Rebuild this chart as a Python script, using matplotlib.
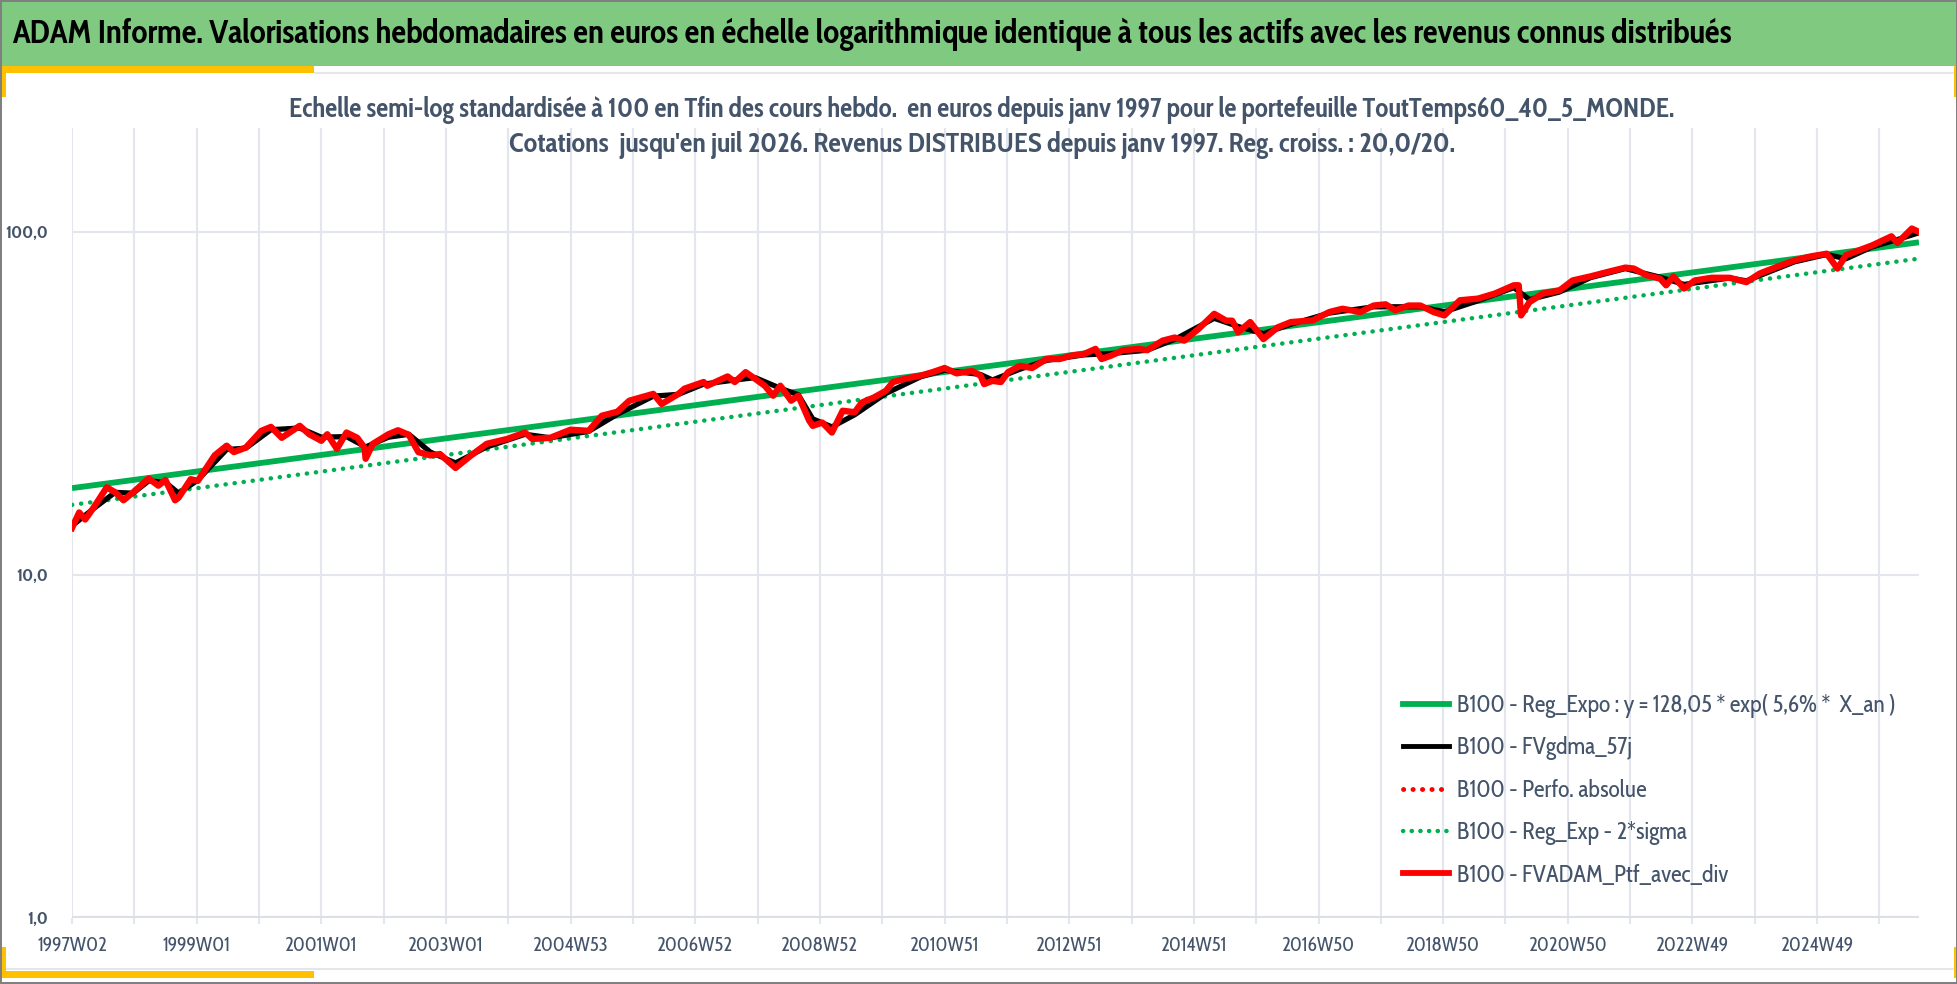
import matplotlib
matplotlib.use("Agg")
import matplotlib.pyplot as plt
from matplotlib.patches import Rectangle
from matplotlib.lines import Line2D
from matplotlib import font_manager as fm

# ---------------- data ----------------
x_tick_labels = ["1997W02", "1999W01", "2001W01", "2003W01", "2004W53", "2006W52",
                 "2008W52", "2010W51", "2012W51", "2014W51", "2016W50", "2018W50",
                 "2020W50", "2022W49", "2024W49"]
n_weeks = 1542

red_weeks = [0, 6, 11, 18, 29, 36, 43, 51, 64, 72, 78, 86, 89, 99, 105, 119, 129, 135, 145,
             158, 166, 175, 190, 198, 208, 213, 221, 229, 238, 244, 245, 251, 264, 272, 281,
             289, 299, 307, 320, 333, 346, 363, 378, 384, 399, 416, 431, 442, 455, 465, 485,
             492, 506, 511, 527, 530, 547, 553, 562, 570, 578, 585, 591, 600, 606, 615, 618,
             626, 634, 643, 653, 659, 669, 679, 685, 695, 708, 718, 728, 738, 751, 758, 761,
             768, 775, 781, 791, 801, 813, 824, 834, 844, 854, 859, 867, 877, 890, 897, 910,
             920, 928, 940, 953, 963, 968, 973, 983, 994, 1006, 1017, 1035, 1049, 1060, 1075,
             1086, 1096, 1104, 1115, 1125, 1136, 1145, 1158, 1173, 1187, 1203, 1207, 1209,
             1216, 1227, 1241, 1252, 1267, 1281, 1296, 1303, 1314, 1325, 1330, 1336, 1345,
             1354, 1368, 1383, 1397, 1408, 1422, 1437, 1451, 1464, 1473, 1480, 1491, 1502,
             1518, 1523, 1535, 1541]
red_vals = [13.7, 15.2, 14.5, 15.7, 18.0, 17.4, 16.5, 17.4, 19.1, 18.2, 18.9, 16.5, 16.8, 19.0,
            18.8, 22.3, 23.8, 22.8, 23.5, 26.3, 27.0, 25.1, 27.2, 25.7, 24.6, 25.7, 23.3, 26.0,
            25.1, 23.5, 21.8, 24.1, 25.7, 26.4, 25.6, 22.8, 22.3, 22.5, 20.5, 22.3, 24.1, 24.9,
            26.0, 24.9, 25.1, 26.5, 26.3, 29.1, 29.9, 32.2, 33.7, 31.5, 33.7, 34.9, 36.5, 35.6,
            37.9, 36.5, 39.0, 37.3, 35.6, 33.3, 35.6, 32.2, 33.3, 28.2, 27.2, 27.8, 26.0, 30.1,
            29.8, 31.8, 32.9, 34.4, 36.5, 37.3, 38.1, 39.0, 40.1, 38.7, 39.3, 38.1, 36.0, 36.8,
            36.5, 39.0, 40.7, 40.1, 42.6, 42.6, 43.6, 44.0, 45.6, 42.6, 43.6, 45.2, 45.6, 45.2,
            48.2, 49.2, 48.2, 52.2, 57.7, 55.1, 55.1, 51.0, 54.6, 48.7, 52.7, 54.6, 55.2, 58.4,
            59.7, 58.4, 61.0, 61.5, 59.1, 61.0, 61.0, 58.4, 57.1, 63.2, 63.9, 66.1, 69.9, 69.9,
            57.1, 62.4, 66.1, 67.5, 72.2, 74.2, 76.4, 78.7, 78.2, 74.7, 73.1, 69.9, 74.2, 68.4,
            72.2, 73.5, 73.5, 71.4, 75.6, 79.0, 82.6, 84.9, 86.4, 78.2, 85.5, 88.4, 91.4, 97.1,
            92.9, 102.3, 100.0]

black_weeks = [0, 18, 36, 51, 64, 78, 89, 105, 129, 145, 166, 190, 208, 229, 245, 264, 281,
               299, 320, 346, 378, 399, 431, 455, 485, 506, 527, 553, 570, 591, 606, 618, 634,
               653, 679, 708, 728, 758, 768, 791, 813, 844, 867, 897, 920, 953, 973, 994, 1017,
               1049, 1086, 1125, 1145, 1173, 1203, 1216, 1241, 1267, 1296, 1325, 1345, 1383,
               1397, 1437, 1464, 1480, 1502, 1523, 1541]
black_vals = [13.9, 15.6, 17.4, 17.3, 18.8, 18.6, 17.3, 18.9, 23.2, 23.4, 26.5, 26.8, 25.2,
              25.3, 23.6, 25.2, 25.7, 22.8, 21.2, 23.6, 25.7, 25.1, 26.2, 29.4, 33.2, 33.6,
              36.0, 37.0, 37.6, 35.0, 33.5, 28.5, 27.0, 29.3, 33.8, 37.8, 39.5, 38.4, 37.0,
              39.8, 42.2, 43.8, 44.2, 45.2, 48.6, 56.0, 53.0, 50.5, 53.8, 58.0, 60.5, 60.5,
              58.5, 63.0, 68.8, 63.5, 66.8, 73.6, 78.2, 73.8, 70.3, 73.4, 72.0, 81.8, 86.0,
              83.5, 90.5, 95.0, 99.5]

reg_weeks = [0, 1541]
reg_vals = [17.9, 93.3]
reg_low_vals = [16.0, 83.6]

legend_labels = ["B100 - Reg_Expo : y = 128,05 * exp( 5,6% *  X_an )",
                 "B100 - FVgdma_57j",
                 "B100 - Perfo. absolue",
                 "B100 - Reg_Exp - 2*sigma",
                 "B100 - FVADAM_Ptf_avec_div"]

title = ("ADAM Informe. Valorisations hebdomadaires en euros en échelle logarithmique "
         "identique à tous les actifs avec les revenus connus distribués")
sub1 = ("Echelle semi-log standardisée à 100 en Tfin des cours hebdo.  en euros depuis janv 1997 "
        "pour le portefeuille ToutTemps60_40_5_MONDE.")
sub2 = "Cotations  jusqu'en juil 2026. Revenus DISTRIBUES depuis janv 1997. Reg. croiss. : 20,0/20."

# ---------------- style ----------------
names = {f.name for f in fm.fontManager.ttflist}
cands = [n for n in ["Cabin Condensed", "Open Sans Condensed", "Carlito",
                     "Barlow Semi Condensed", "DejaVu Sans"] if n in names]
FONT = cands[0] if cands else "DejaVu Sans"
plt.rcParams["font.family"] = [FONT, "DejaVu Sans"]

W, H = 1958, 984
fig = plt.figure(figsize=(W / 100, H / 100), dpi=100)
fig.patch.set_facecolor("white")

GREEN = "#00B050"
RED = "#FF0000"
SLATE = "#44546A"
GRID = "#E3E6EC"
BANNER = "#80C980"
YELLOW = "#FFC000"


def px_rect(x0, y0, x1, y1, color, z=0):
    fig.patches.append(Rectangle((x0 / W, 1 - y1 / H), (x1 - x0) / W, (y1 - y0) / H,
                                 transform=fig.transFigure, facecolor=color,
                                 edgecolor="none", zorder=z))


px_rect(0, 0, W, 66, BANNER)
px_rect(314, 72, W, 74, "#E4E6EA")
px_rect(0, 968, W, 970, "#E4E6EA")
px_rect(0, 66, 314, 73, YELLOW)
px_rect(0, 66, 6, 97, YELLOW)
px_rect(1954, 66, W, 97, YELLOW)
px_rect(0, 947, 6, 978, YELLOW)
px_rect(0, 971, 314, 978, YELLOW)
px_rect(1954, 947, W, 978, YELLOW)
# outer frame
px_rect(0, 0, W, 2, "#808080", 5)
px_rect(0, H - 2, W, H, "#808080", 5)
px_rect(0, 0, 2, H, "#808080", 5)
px_rect(W - 2, 0, W, H, "#808080", 5)

renderer = fig.canvas.get_renderer()


def fit(t, target):
    for _ in range(3):
        w = t.get_window_extent(renderer).width
        t.set_fontsize(t.get_fontsize() * target / w)
    return t.get_fontsize()


t0 = fig.text(12 / W, 1 - 34 / H, title, ha="left", va="center", fontsize=20,
              fontweight="bold", color="black")
fit(t0, 1718)
t1 = fig.text(982 / W, 1 - 110 / H, sub1, ha="center", va="center", fontsize=15,
              fontweight="bold", color=SLATE)
fit(t1, 1383)
t2 = fig.text(982 / W, 1 - 145 / H, sub2, ha="center", va="center", fontsize=15,
              fontweight="bold", color=SLATE)
fit(t2, 946)

# measure sizes for ticks and legend
probe = fig.text(0, 0, "1997W02", fontsize=14)
xt_fs = fit(probe, 70)
probe.set_text("100,0")
probe.set_fontweight("bold")
probe.set_fontsize(14)
yt_fs = fit(probe, 43)
probe.set_text(legend_labels[0])
probe.set_fontweight("normal")
probe.set_fontsize(16)
lg_fs = fit(probe, 437)
probe.remove()

# ---------------- axes ----------------
ax = fig.add_axes([72 / W, 1 - 917.7 / H, (1919 - 72) / W, (917.7 - 128) / H])
ax.set_facecolor("none")
ax.set_yscale("log")
ax.set_xlim(0, n_weeks - 1)
ax.set_ylim(1.0, 201)

for s in ax.spines.values():
    s.set_visible(False)

ax.set_yticks([1, 10, 100])
ax.set_yticklabels(["1,0", "10,0", "100,0"])
ax.yaxis.set_minor_locator(matplotlib.ticker.NullLocator())
ax.tick_params(axis="y", length=0, pad=17, labelsize=yt_fs, labelcolor=SLATE)
for lab in ax.get_yticklabels():
    lab.set_fontweight("bold")

ax.set_xticks([104 * i for i in range(len(x_tick_labels))])
ax.set_xticklabels(x_tick_labels)
ax.set_xticks([52 + 104 * i for i in range(len(x_tick_labels))], minor=True)
ax.tick_params(axis="x", which="both", length=4, width=1.5, color=GRID, pad=9,
               labelsize=xt_fs, labelcolor=SLATE)
ax.grid(True, which="both", axis="x", color=GRID, linewidth=1.5)
ax.grid(True, which="major", axis="y", color=GRID, linewidth=1.5)
ax.axhline(1.0, color="#DCDFE5", linewidth=3, zorder=1)
ax.set_axisbelow(True)

ax.plot(reg_weeks, reg_vals, color=GREEN, linewidth=4.2, solid_capstyle="butt", zorder=2)
ax.plot(reg_weeks, reg_low_vals, color=GREEN, linewidth=3.2, linestyle=(0, (0.05, 2.0)),
        dash_capstyle="round", zorder=2)
ax.plot(black_weeks, black_vals, color="black", linewidth=3.8, zorder=3)
ax.plot(red_weeks, red_vals, color=RED, linewidth=3.2, linestyle=(0, (0.05, 2.0)),
        dash_capstyle="round", zorder=3)
ax.plot(red_weeks, red_vals, color=RED, linewidth=4.6, zorder=4, solid_joinstyle="round")

handles = [Line2D([], [], color=GREEN, linewidth=4.2),
           Line2D([], [], color="black", linewidth=3.5),
           Line2D([], [], color=RED, linewidth=3.5, linestyle=(0, (0.05, 1.9)),
                  dash_capstyle="round"),
           Line2D([], [], color=GREEN, linewidth=3.2, linestyle=(0, (0.05, 1.9)),
                  dash_capstyle="round"),
           Line2D([], [], color=RED, linewidth=4.2)]
fs_px = lg_fs * 100 / 72
leg = fig.legend(handles, legend_labels, loc="upper left",
                 bbox_to_anchor=(1403 / W, 1 - 694 / H), frameon=False, fontsize=lg_fs,
                 handlelength=46 / fs_px, handletextpad=8 / fs_px,
                 labelspacing=0.6 + 4.3 / fs_px, borderpad=0, borderaxespad=0)
for t in leg.get_texts():
    t.set_color(SLATE)

fig.savefig("out.png", dpi=100, facecolor="white")
